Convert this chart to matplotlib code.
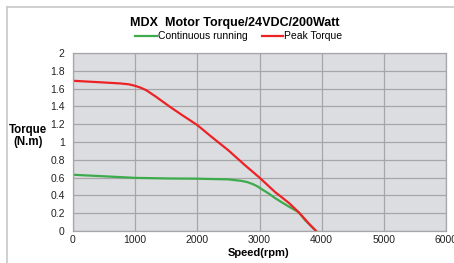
import matplotlib
matplotlib.use("Agg")
import matplotlib.pyplot as plt
from matplotlib.lines import Line2D

plt.rcParams['font.family'] = ['Liberation Sans', 'DejaVu Sans']

title = "MDX  Motor Torque/24VDC/200Watt"
cont_speed = [0, 490, 1000, 1550, 1960, 2500, 2710, 2800, 2900, 2970, 3040, 3150, 3250, 3360, 3470, 3630, 3740, 3910]
cont_torque = [0.632, 0.615, 0.597, 0.590, 0.588, 0.580, 0.563, 0.550, 0.525, 0.500, 0.468, 0.420, 0.370, 0.322, 0.275, 0.211, 0.117, 0.0]
peak_speed = [0, 490, 760, 900, 1000, 1090, 1180, 1340, 1550, 1760, 2000, 2230, 2500, 2770, 3000, 3250, 3470, 3630, 3800, 3910]
peak_torque = [1.688, 1.669, 1.658, 1.648, 1.631, 1.610, 1.581, 1.506, 1.400, 1.300, 1.190, 1.057, 0.906, 0.737, 0.600, 0.438, 0.317, 0.211, 0.079, 0.0]
xticks = [0, 1000, 2000, 3000, 4000, 5000, 6000]
yticks = [0, 0.2, 0.4, 0.6, 0.8, 1, 1.2, 1.4, 1.6, 1.8, 2]
ytick_labels = ["0", "0.2", "0.4", "0.6", "0.8", "1", "1.2", "1.4", "1.6", "1.8", "2"]

W, H = 454, 263
fig = plt.figure(figsize=(W/100, H/100), dpi=100)
ax = fig.add_axes([73/W, 1-231/H, (446-73)/W, (231-53)/H])
ax.set_facecolor('#dcdde0')

green = '#3cab4c'
red = '#ec2227'
ax.plot(cont_speed, cont_torque, color=green, lw=1.6, solid_joinstyle='round')
ax.plot(peak_speed, peak_torque, color=red, lw=1.6, solid_joinstyle='round')

ax.set_xlim(0, 6000)
ax.set_ylim(0, 2)
ax.set_xticks(xticks)
ax.set_yticks(yticks)
ax.set_yticklabels(ytick_labels)
ax.grid(True, color='#a6a6a8', lw=0.9)
ax.set_axisbelow(True)
for s in ax.spines.values():
    s.set_color('#a6a6a8')
    s.set_linewidth(0.9)
ax.tick_params(length=0, labelsize=7.5, colors='#222222')
ax.tick_params(axis='y', pad=6)
ax.tick_params(axis='x', pad=3)

fig.text(28/W, 1-136/H, "Torque\n(N.m)", ha='center', va='center', fontsize=8.3,
         fontweight='bold', linespacing=1.1)
fig.text(259/W, 1-253/H, "Speed(rpm)", ha='center', va='center', fontsize=8, fontweight='bold')
fig.text(235/W, 1-23/H, title, ha='center', va='center', fontsize=9, fontweight='bold')

# legend
fig.add_artist(Line2D([135/W, 157/W], [1-36/H, 1-36/H], color=green, lw=1.6))
fig.text(158/W, 1-36/H, "Continuous running", ha='left', va='center', fontsize=7.5)
fig.add_artist(Line2D([262/W, 283/W], [1-36/H, 1-36/H], color=red, lw=1.6))
fig.text(284/W, 1-36/H, "Peak Torque", ha='left', va='center', fontsize=7.5)

# outer frame
fig.add_artist(Line2D([7/W, 7/W], [0, 1-7/H], color='#c8c8c8', lw=1.2))
fig.add_artist(Line2D([7/W, 1], [1-7/H, 1-7/H], color='#c8c8c8', lw=1.2))

fig.savefig("out.png", dpi=100)
